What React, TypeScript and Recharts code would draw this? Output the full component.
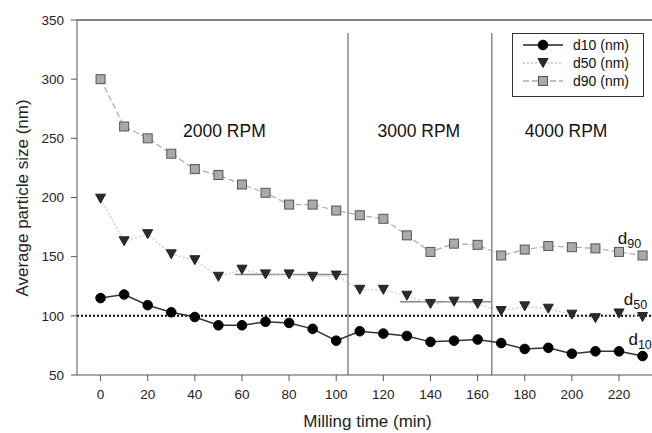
import React from "react";
import {
  LineChart,
  Line,
  XAxis,
  YAxis,
  ReferenceLine,
  ReferenceDot,
} from "recharts";

const times = [0, 10, 20, 30, 40, 50, 60, 70, 80, 90, 100, 110, 120, 130, 140, 150, 160, 170, 180, 190, 200, 210, 220, 230];
const d10 = [115, 118, 109, 103, 99, 92, 92, 95, 94, 89, 79, 87, 85, 83, 78, 79, 80, 77, 72, 73, 68, 70, 70, 66];
const d50 = [199, 163, 169, 152, 147, 133, 139, 135, 135, 133, 134, 122, 122, 117, 110, 112, 110, 104, 108, 106, 101, 98, 102, 99];
const d90 = [300, 260, 250, 237, 224, 219, 211, 204, 194, 194, 189, 185, 182, 168, 154, 161, 160, 151, 156, 159, 158, 157, 154, 151];

const xTicks = [0, 20, 40, 60, 80, 100, 120, 140, 160, 180, 200, 220];
const yTicks = [50, 100, 150, 200, 250, 300, 350];

// speed changes and the plateau levels reached in each stage
const stageBreaks = [105, 166];
const plateauFrom = [57, 127];
const plateauTo = [105, 166];
const plateauValue = [135, 112];
const targetSize = 100;

const stageNames = ["2000 RPM", "3000 RPM", "4000 RPM"];
const stageNameX = [35, 117.5, 180];
const stageNameY = 251;

const seriesTags = ["10", "50", "90"];
const tagX = [224, 222, 219.5];
const tagY = [75, 109, 161];

const data = times.map((t, i) => ({ t, d10: d10[i], d50: d50[i], d90: d90[i] }));

const FONT = "'Liberation Sans', Arial, sans-serif";

const Circle = ({ cx, cy }: any) => <circle cx={cx} cy={cy} r={4.8} fill="#000" stroke="#000" />;
const Triangle = ({ cx, cy }: any) => (
  <path d={`M${cx - 5},${cy - 4.5} L${cx + 5},${cy - 4.5} L${cx},${cy + 4.5} Z`} fill="#2b2b2b" stroke="#222" />
);
const Square = ({ cx, cy }: any) => (
  <rect x={cx - 4.5} y={cy - 4.5} width={9} height={9} fill="#aaa" stroke="#555" />
);

const LegendBox = () => {
  const rows = [
    { name: "d10 (nm)", stroke: "#222", dash: undefined, Mark: Circle },
    { name: "d50 (nm)", stroke: "#c8c8c8", dash: "2 2", Mark: Triangle },
    { name: "d90 (nm)", stroke: "#aaa", dash: "6 3", Mark: Square },
  ];
  return (
    <div
      style={{
        position: "absolute",
        left: 512,
        top: 33,
        width: 130,
        height: 62,
        border: "1px solid #333",
        background: "#fff",
      }}
    >
      <svg width={130} height={62}>
        {rows.map((r, i) => {
          const y = 11 + i * 18;
          return (
            <g key={r.name}>
              <line x1={10} x2={50} y1={y} y2={y} stroke={r.stroke} strokeWidth={1.3} strokeDasharray={r.dash} />
              <r.Mark cx={30} cy={y} />
              <text x={60} y={y + 5} fontSize={14} fontFamily={FONT} fill="#111">
                {r.name}
              </text>
            </g>
          );
        })}
      </svg>
    </div>
  );
};

export default function App() {
  return (
    <div style={{ position: "relative", width: 652, height: 433, background: "#fff" }}>
      <style>{`body{margin:0}`}</style>
      <LineChart width={652} height={433} data={data} margin={{ top: 20, right: 0, bottom: 0, left: 0 }}>
        <XAxis
          dataKey="t"
          type="number"
          domain={[-10, 234]}
          ticks={xTicks}
          allowDataOverflow
          height={58}
          tickSize={6}
          tickMargin={8}
          stroke="#555"
          tick={{ fontSize: 13.5, fill: "#222", fontFamily: FONT }}
          label={{
            content: ({ viewBox }: any) => (
              <text x={viewBox.x + viewBox.width / 2 + 3} y={427} textAnchor="middle" fontSize={17} fontFamily={FONT} fill="#222">
                Milling time (min)
              </text>
            ),
          }}
        />
        <YAxis
          type="number"
          domain={[50, 350]}
          ticks={yTicks}
          allowDataOverflow
          width={77}
          tickSize={6}
          tickMargin={7}
          stroke="#555"
          tick={{ fontSize: 13.5, fill: "#222", fontFamily: FONT }}
          label={{
            content: () => (
              <text transform="translate(28,198) rotate(-90)" textAnchor="middle" fontSize={17} fontFamily={FONT} fill="#222">
                Average particle size (nm)
              </text>
            ),
          }}
        />
        <ReferenceLine y={350} stroke="#555" strokeWidth={1.5} />
        <ReferenceLine y={targetSize} stroke="#000" strokeWidth={2} strokeDasharray="2 2" />
        {stageBreaks.map((x) => (
          <ReferenceLine
            key={x}
            segment={[{ x, y: 50 }, { x, y: 339 }]}
            stroke="#888"
            strokeWidth={1.5}
          />
        ))}
        {plateauValue.map((v, i) => (
          <ReferenceLine
            key={i}
            segment={[{ x: plateauFrom[i], y: v }, { x: plateauTo[i], y: v }]}
            stroke="#888"
            strokeWidth={1.5}
          />
        ))}
        <Line type="linear" dataKey="d90" stroke="#aaa" strokeWidth={1.2} strokeDasharray="6 3" dot={(p: any) => <Square key={p.index} {...p} />} isAnimationActive={false} />
        <Line type="linear" dataKey="d50" stroke="#c8c8c8" strokeWidth={1.2} strokeDasharray="2 2" dot={(p: any) => <Triangle key={p.index} {...p} />} isAnimationActive={false} />
        <Line type="linear" dataKey="d10" stroke="#333" strokeWidth={1.5} dot={(p: any) => <Circle key={p.index} {...p} />} isAnimationActive={false} />
        {stageNames.map((name, i) => (
          <ReferenceDot
            key={name}
            x={stageNameX[i]}
            y={stageNameY}
            r={0}
            shape={({ cx, cy }: any) => (
              <text x={cx} y={cy} fontSize={17.5} fontFamily={FONT} fill="#111">
                {name}
              </text>
            )}
          />
        ))}
        {seriesTags.map((tag, i) => (
          <ReferenceDot
            key={tag}
            x={tagX[i]}
            y={tagY[i]}
            r={0}
            shape={({ cx, cy }: any) => (
              <text x={cx} y={cy} fontSize={17} fontFamily={FONT} fill="#111">
                d
                <tspan fontSize={12.5} dy={4}>
                  {tag}
                </tspan>
              </text>
            )}
          />
        ))}
      </LineChart>
      <LegendBox />
    </div>
  );
}
